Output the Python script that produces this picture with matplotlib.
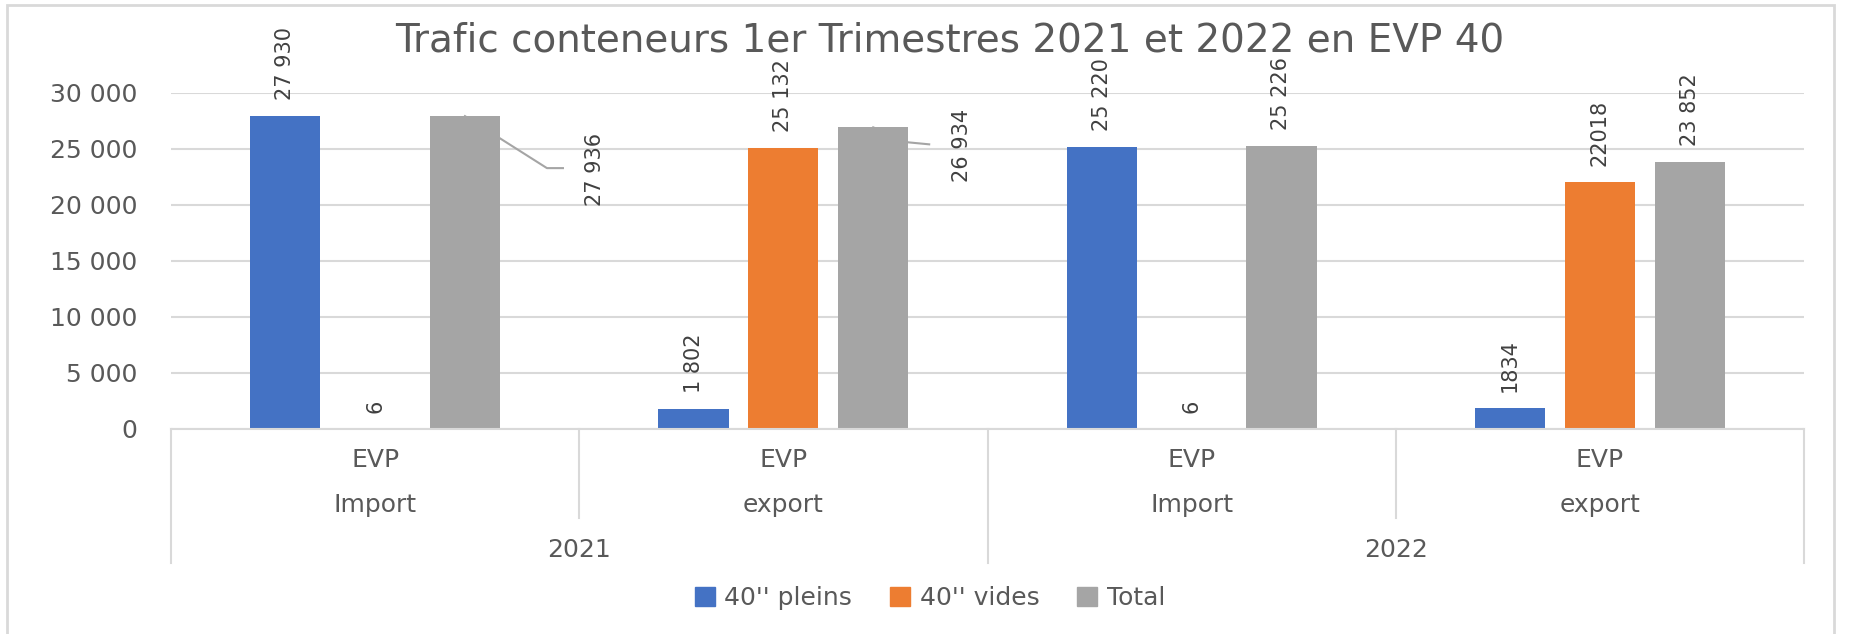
import numpy as np
import matplotlib.pyplot as plt
import matplotlib.transforms as mtransforms
from matplotlib.patches import Patch, Rectangle
from matplotlib.ticker import FuncFormatter

# Données
flux = ['Import', 'export', 'Import', 'export']
unite = ['EVP', 'EVP', 'EVP', 'EVP']
annees = ['2021', '2022']
series = ["40'' pleins", "40'' vides", 'Total']

pleins = [27930, 1802, 25220, 1834]
vides = [6, 25132, 6, 22018]
total = [27936, 26934, 25226, 23852]

lbl_pleins = ['27 930', '1 802', '25 220', '1834']
lbl_vides = ['6', '25 132', '6', '22018']
lbl_total = ['27 936', '26 934', '25 226', '23 852']

couleurs = ['#4472C4', '#ED7D31', '#A5A5A5']
gris_txt = '#595959'
gris_lbl = '#404040'
gris_grille = '#D9D9D9'

plt.rcParams['font.family'] = ['DejaVu Sans']

fig = plt.figure(figsize=(18.5, 6.34), dpi=100)
ax = fig.add_axes([171 / 1850, 205 / 634, 1633 / 1850, 336 / 634])

x = np.arange(len(flux))
largeur = 0.172
decal = 0.22

for k, (vals, lbls) in enumerate(zip([pleins, vides, total], [lbl_pleins, lbl_vides, lbl_total])):
    pos = x + (k - 1) * decal
    ax.bar(pos, vals, width=largeur, color=couleurs[k], label=series[k], zorder=3)
    for i in range(len(vals)):
        # deux étiquettes du total sont déplacées avec une ligne de rappel
        if k == 2 and i in (0, 1):
            continue
        ax.annotate(lbls[i], (pos[i], vals[i]), xytext=(0, 16), textcoords='offset pixels',
                    rotation=90, ha='center', va='bottom', fontsize=15, color=gris_lbl)

ax.set_xlim(-0.5, 3.5)
ax.set_ylim(0, 30000)
ax.set_yticks(np.arange(0, 30001, 5000))
ax.yaxis.set_major_formatter(FuncFormatter(lambda v, p: f'{int(v):,}'.replace(',', ' ')))
ax.tick_params(axis='y', length=0, pad=24, labelsize=18, labelcolor=gris_txt)
ax.set_xticks([])
ax.grid(axis='y', color=gris_grille, linewidth=1.5, zorder=0)
for s in ax.spines.values():
    s.set_visible(False)
ax.axhline(0, color=gris_grille, linewidth=1.5, zorder=4, clip_on=False)

# étiquettes déplacées (Total 2021) avec lignes de rappel, décalages en pixels
fig.canvas.draw()
ident = mtransforms.IdentityTransform()
deplac = {0: [(82, -52), (98, -52), (130, -53)], 1: [(35, -15), (56, -17), (89, -18)]}
for i, offs in deplac.items():
    bx, by = ax.transData.transform((x[i] + decal, total[i]))
    ax.plot([bx, bx + offs[0][0], bx + offs[1][0]], [by, by + offs[0][1], by + offs[1][1]],
            transform=ident, color='#A5A5A5', linewidth=1.5, zorder=2, clip_on=False)
    ax.text(bx + offs[2][0], by + offs[2][1], lbl_total[i], transform=ident, rotation=90,
            ha='center', va='center', fontsize=15, color=gris_lbl)

# axe des catégories à plusieurs niveaux
trans = mtransforms.blended_transform_factory(ax.transData, ax.transAxes)
px = 1 / 336
for b in [-0.5, 0.5, 1.5, 2.5, 3.5]:
    bas = -134 * px if b in (-0.5, 1.5, 3.5) else -89 * px
    ax.plot([b, b], [0, bas], transform=trans, color=gris_grille, linewidth=1.5, clip_on=False)
for i in range(len(flux)):
    ax.text(x[i], -31 * px, unite[i], transform=trans, ha='center', va='center', fontsize=18, color=gris_txt)
    ax.text(x[i], -76 * px, flux[i], transform=trans, ha='center', va='center', fontsize=18, color=gris_txt)
for j, a in enumerate(annees):
    ax.text(0.5 + 2 * j, -121 * px, a, transform=trans, ha='center', va='center', fontsize=18, color=gris_txt)

fig.text(950 / 1850, 594 / 634, 'Trafic conteneurs 1er Trimestres 2021 et 2022 en EVP 40',
         ha='center', va='center', fontsize=28, color=gris_txt)

poignees = [Patch(color=c) for c in couleurs]
fig.legend(poignees, series, loc='center', bbox_to_anchor=(930 / 1850, 36 / 634), ncol=3,
           frameon=False, fontsize=18, labelcolor=gris_txt, handlelength=0.8, handleheight=0.8,
           handletextpad=0.4, columnspacing=1.5)

fig.patches.append(Rectangle((7 / 1850, -0.05), 1827 / 1850, 1.05 - 5 / 634, transform=fig.transFigure,
                             fill=False, edgecolor=gris_grille, linewidth=2))

fig.savefig('out.png', dpi=100)
